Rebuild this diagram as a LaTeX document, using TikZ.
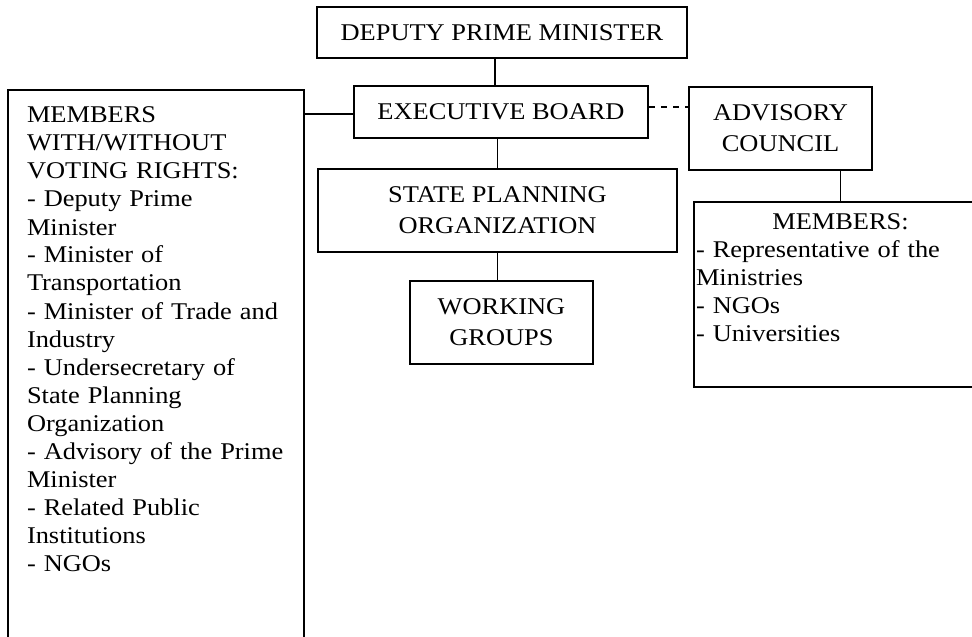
\documentclass[tikz,border=0pt]{standalone}
\usepackage{fontspec}
\setmainfont[FakeStretch=1.1]{Liberation Serif}
\usetikzlibrary{positioning}

\begin{document}
\begin{tikzpicture}[
    block/.style={rectangle, draw, line width=1pt, align=center, minimum width=91.5pt, minimum height=41.5pt, font=\fontsize{12}{15.5}\selectfont},
    listbox/.style={rectangle, draw, line width=1pt, align=left, text height=8pt, font=\fontsize{12}{14}\selectfont},
    link/.style={line width=0.6pt}]

    \useasboundingbox (0,0) rectangle (486pt,-318pt);

    \node[block, minimum width=185pt, minimum height=25.5pt] (dpm) at (251pt,-16.25pt) {DEPUTY PRIME MINISTER};
    \node[block, below=13pt of dpm, xshift=-0.5pt, minimum width=147pt, minimum height=26pt] (board) {EXECUTIVE BOARD};
    \node[block, below=14.5pt of board, xshift=-1.75pt, minimum width=179.5pt] (spo) {STATE PLANNING\\ORGANIZATION};
    \node[block, below=13.5pt of spo, xshift=2pt] (groups) {WORKING\\GROUPS};
    \node[block, below right=0.5pt and 19.5pt of board.north east] (council) {ADVISORY\\COUNCIL};

    % member lists
    \node[listbox, below left=2pt and 24pt of board.north west, text width=129pt, inner xsep=9.5pt, inner ysep=8.5pt, text depth=260pt] (voting) {MEMBERS\\ WITH/WITHOUT\\ VOTING RIGHTS:\\ - Deputy Prime\\ Minister\\ - Minister of\\ Transportation\\ - Minister of Trade and\\ Industry\\ - Undersecretary of\\ State Planning\\ Organization\\ - Advisory of the Prime\\ Minister\\ - Related Public\\ Institutions\\ - NGOs};
    \node[listbox, below right=15pt and 2.5pt of council.south west, text width=144.5pt, inner xsep=1pt, inner ysep=5.5pt, text depth=73.5pt] (members) {\makebox[\linewidth]{MEMBERS:}\\ - Representative of the\\ Ministries\\ - NGOs\\ - Universities};

    \draw[link] ([xshift=-3.5pt]dpm.south) -- ([xshift=-3.5pt]dpm.south |- board.north);
    \draw[link] (spo.north) -- (spo.north |- board.south);
    \draw[link] (spo.south) -- (spo.south |- groups.north);
    \draw[link] ([yshift=-1pt]board.west) -- ([yshift=-1pt]board.west -| voting.east);
    \draw[link, dash pattern=on 3pt off 3pt] ([yshift=2.5pt]board.east) -- ([yshift=2.5pt]board.east -| council.west);
    \draw[link] (members.north) -- (members.north |- council.south);
\end{tikzpicture}
\end{document}
